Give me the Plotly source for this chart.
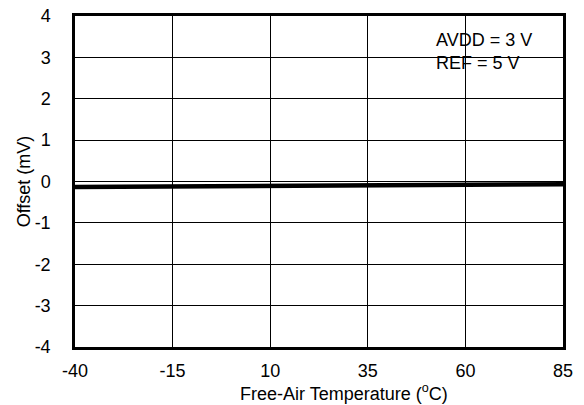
import plotly.graph_objects as go

temperature_c = [-40, -15, 10, 35, 60, 85]
offset_mv = [-0.13, -0.12, -0.11, -0.10, -0.08, -0.065]
x_ticks = [-40, -15, 10, 35, 60, 85]
y_ticks = [-4, -3, -2, -1, 0, 1, 2, 3, 4]

FONT = "Liberation Sans, Arial, sans-serif"
FS = 18

fig = go.Figure()
fig.add_trace(go.Scatter(x=temperature_c, y=offset_mv, mode="lines",
                         line=dict(color="black", width=4.5), showlegend=False))

fig.update_layout(
    width=584, height=405, autosize=False,
    margin=dict(l=75, r=21, t=16, b=58),
    paper_bgcolor="white", plot_bgcolor="white",
    font=dict(family=FONT, size=FS, color="black"),
)
fig.update_xaxes(range=[-40, 85], tickvals=x_ticks, ticktext=[str(v) for v in x_ticks],
                 showgrid=True, gridcolor="black", gridwidth=1,
                 showline=True, linecolor="black", linewidth=2.5, mirror=True,
                 zeroline=False, ticks="", ticklabelstandoff=6, automargin=False)
fig.update_yaxes(range=[-4, 4], tickvals=y_ticks, ticktext=[str(v) for v in y_ticks],
                 showgrid=True, gridcolor="black", gridwidth=1,
                 showline=True, linecolor="black", linewidth=2.5, mirror=True,
                 zeroline=False, ticks="", ticklabelstandoff=18, automargin=False,
                 title=dict(text="Offset (mV)", standoff=0, font=dict(size=FS)))

# x-axis title (offset to the right in the reference)
fig.add_annotation(xref="paper", yref="paper", x=(344 - 75) / 488, y=1 - (392 - 16) / 331,
                   xanchor="center", yanchor="middle", showarrow=False,
                   text="Free-Air Temperature (<sup>o</sup>C)", font=dict(size=FS))

fig.add_shape(type="rect", xref="paper", yref="paper",
              x0=(417 - 75) / 488, x1=(557 - 75) / 488,
              y0=1 - (82 - 16) / 331, y1=1 - (18 - 16) / 331,
              fillcolor="white", line=dict(width=0), layer="between")
fig.add_annotation(xref="paper", yref="paper", x=(434 - 75) / 488, y=1 - (52 - 16) / 331,
                   xanchor="left", yanchor="middle", align="left", showarrow=False,
                   text="AVDD = 3 V<br>REF = 5 V", font=dict(size=FS))

fig.write_html("out.html", config={"displayModeBar": False},
               post_script="document.body.style.margin='0';")
